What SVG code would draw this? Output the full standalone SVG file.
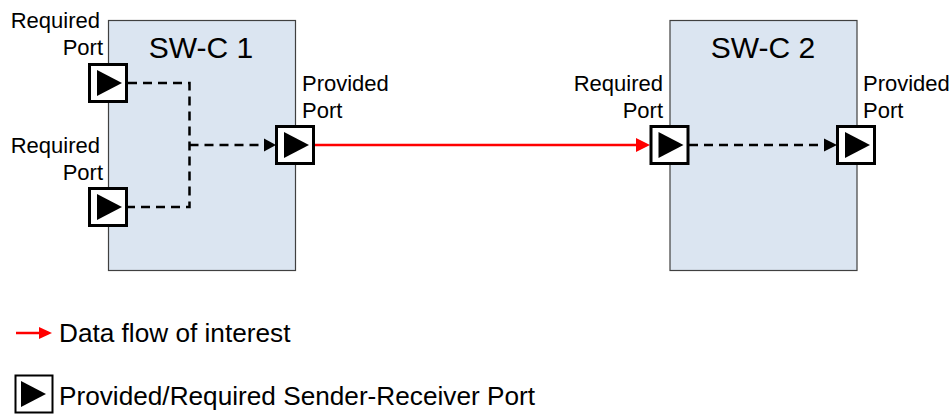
<svg xmlns="http://www.w3.org/2000/svg" width="952" height="414" viewBox="0 0 952 414">
<style>
text{font-family:"Liberation Sans",Arial,sans-serif;fill:#000}
.l{font-size:22px}
.t{font-size:30px}
.f{font-size:26.2px}
.e{text-anchor:end}
.m{text-anchor:middle}
.box{fill:#dbe5f1;stroke:#404040;stroke-width:1.2}
.port{fill:#fff;stroke:#000;stroke-width:3}
.tri{fill:#000}
.d{fill:none;stroke:#000;stroke-width:2.5;stroke-dasharray:9 6}
.r{fill:none;stroke:#f00;stroke-width:2.5}
</style>
<defs>
<g id="p"><rect class="port" x="-18.500" y="-18.500" width="37" height="37"/><path class="tri" d="M-11-13L14 0L-11 13Z"/></g>
</defs>
<rect width="952" height="414" fill="#fff"/>
<g id="swc1"><rect class="box" x="108.500" y="20.500" width="187" height="250"/><text class="t m" x="201" y="58">SW-C 1</text></g>
<g id="swc2"><rect class="box" x="670" y="20.500" width="187" height="250"/><text class="t m" x="763" y="58">SW-C 2</text></g>
<g id="connectors">
<path class="d" d="M128 83H189.500V207H128"/>
<path class="d" d="M189.500 145H264"/>
<path class="tri" d="M264 138.500L276 145L264 151.500Z"/>
<path class="r" d="M315 145H638"/>
<path d="M636 138L650 145L636 152Z" fill="#f00"/>
<path class="d" d="M689 145H825"/>
<path class="tri" d="M824 138.500L837 145L824 151.500Z"/>
</g>
<g id="port-r1"><use href="#p" x="108" y="83"/><text class="l e" x="100" y="28">Required</text><text class="l e" x="103" y="55">Port</text></g>
<g id="port-r2"><use href="#p" x="108" y="207"/><text class="l e" x="100" y="153">Required</text><text class="l e" x="103" y="180">Port</text></g>
<g id="port-p1"><use href="#p" x="295" y="145"/><text class="l" x="302" y="91">Provided</text><text class="l" x="302" y="118">Port</text></g>
<g id="port-r3"><use href="#p" x="669.500" y="145"/><text class="l e" x="663" y="91">Required</text><text class="l e" x="663" y="118">Port</text></g>
<g id="port-p2"><use href="#p" x="856" y="145"/><text class="l" x="863" y="91">Provided</text><text class="l" x="863" y="118">Port</text></g>
<g id="legend-flow"><path class="r" d="M16 333H40"/><path d="M39 327L52 333L39 339Z" fill="#f00"/><text class="f" x="59" y="342">Data flow of interest</text></g>
<g id="legend-port"><rect x="15.500" y="375.500" width="37" height="37" fill="#fff" stroke="#000" stroke-width="2"/><path class="tri" d="M21 381L46 394L21 407Z"/><text class="f" x="59" y="405">Provided/Required Sender-Receiver Port</text></g>
</svg>
